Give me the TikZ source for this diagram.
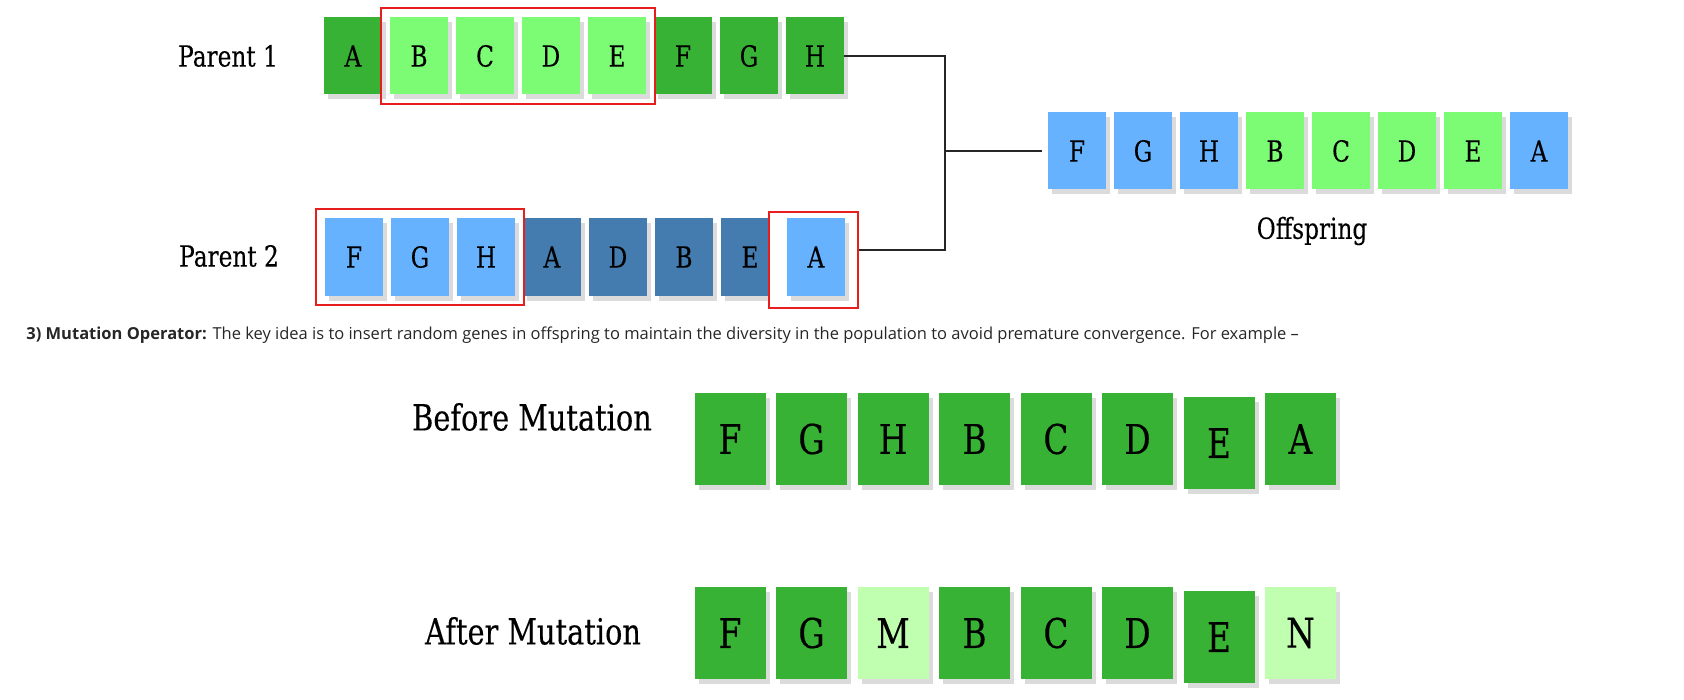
\documentclass[tikz,border=0pt]{standalone}
\usepackage{fontspec}
\usepackage[dvipsnames]{xcolor}
\usetikzlibrary{positioning,shadows,fit}

\newfontfamily\genefont[FakeStretch=0.8,FakeBold=0.25]{DejaVu Serif}
\newfontfamily\notefont{Open Sans}

\definecolor{dkgreen}{RGB}{56,178,52}
\definecolor{ltgreen}{RGB}{124,252,116}
\definecolor{pale}{RGB}{192,255,176}
\definecolor{ltblue}{RGB}{102,178,255}
\definecolor{dkblue}{RGB}{69,124,176}
\definecolor{frame}{RGB}{230,30,30}

\begin{document}
\begin{tikzpicture}[x=0.5pt,y=-0.5pt,node distance=33pt,
    gene/.style={minimum width=29pt,minimum height=38.5pt,inner sep=0pt,
        font=\genefont\fontsize{14.5}{16}\selectfont,
        drop shadow={shadow xshift=2pt,shadow yshift=-2.5pt,fill=black!28}},
    big gene/.style={gene,minimum width=35.5pt,minimum height=46pt,
        font=\genefont\fontsize{20.5}{22}\selectfont},
    row label/.style={font=\genefont\fontsize{14.5}{16}\selectfont},
    big label/.style={font=\genefont\fontsize{18}{20}\selectfont},
    redframe/.style={draw=frame,line width=1pt,inner sep=4.5pt},
    link/.style={draw=black!85,line width=0.8pt}]
    \useasboundingbox (0,0) rectangle (1684,700);

    % parent 1
    \node[row label] (lab1) at (228,56) {Parent 1};
    \node[gene,fill=dkgreen] (a1) at (353,56) {A};
    \node[gene,fill=ltgreen] (b1) [right of = a1] {B};
    \node[gene,fill=ltgreen] (c1) [right of = b1] {C};
    \node[gene,fill=ltgreen] (d1) [right of = c1] {D};
    \node[gene,fill=ltgreen] (e1) [right of = d1] {E};
    \node[gene,fill=dkgreen] (f1) [right of = e1] {F};
    \node[gene,fill=dkgreen] (g1) [right of = f1] {G};
    \node[gene,fill=dkgreen] (h1) [right of = g1] {H};
    \node[redframe,fit=(b1)(e1)] (cut1) {};

    % parent 2
    \node[row label] (lab2) at (229,256) {Parent 2};
    \node[gene,fill=ltblue] (f2) at (354,257) {F};
    \node[gene,fill=ltblue] (g2) [right of = f2] {G};
    \node[gene,fill=ltblue] (h2) [right of = g2] {H};
    \node[gene,fill=dkblue] (a2) [right of = h2] {A};
    \node[gene,fill=dkblue] (d2) [right of = a2] {D};
    \node[gene,fill=dkblue] (b2) [right of = d2] {B};
    \node[gene,fill=dkblue] (e2) [right of = b2] {E};
    \node[redframe,fill=white,minimum width=44.5pt,minimum height=48pt] (cut3) at (813.5,260) {};
    \node[gene,fill=ltblue] (x2) [right of = e2] {A};
    \node[redframe,fit=(f2)(h2)] (cut2) {};

    % offspring
    \node[gene,fill=ltblue] (f3) at (1077,151) {F};
    \node[gene,fill=ltblue] (g3) [right of = f3] {G};
    \node[gene,fill=ltblue] (h3) [right of = g3] {H};
    \node[gene,fill=ltgreen] (b3) [right of = h3] {B};
    \node[gene,fill=ltgreen] (c3) [right of = b3] {C};
    \node[gene,fill=ltgreen] (d3) [right of = c3] {D};
    \node[gene,fill=ltgreen] (e3) [right of = d3] {E};
    \node[gene,fill=ltblue] (a3) [right of = e3] {A};
    \node[row label] (lab3) at (1312,231) {Offspring};

    \coordinate (join) at (945,151);
    \path[link] (h1.east) -| (join);
    \path[link] ([yshift=5pt]cut3.east) -| (join);
    \path[link,shorten >=3pt] (join) -- (f3.west);

    \node[anchor=west,font=\notefont\fontsize{8.25}{10}\selectfont,text=black!85,inner sep=0pt] (note) at (26,335)
        {\textbf{3) Mutation Operator:} The key idea is to insert random genes in offspring to maintain the diversity in the population to avoid premature convergence. For example –};

    % mutation
    \begin{scope}[node distance=40.75pt]
    \node[big label] (lab4) at (532,417) {Before Mutation};
    \node[big gene,fill=dkgreen] (f4) at (730,439) {F};
    \node[big gene,fill=dkgreen] (g4) [right of = f4] {G};
    \node[big gene,fill=dkgreen] (h4) [right of = g4] {H};
    \node[big gene,fill=dkgreen] (b4) [right of = h4] {B};
    \node[big gene,fill=dkgreen] (c4) [right of = b4] {C};
    \node[big gene,fill=dkgreen] (d4) [right of = c4] {D};
    \node[big gene,fill=dkgreen] (e4) [right of = d4, yshift=-2pt] {E};
    \node[big gene,fill=dkgreen] (a4) [right of = e4, yshift=2pt] {A};

    \node[big label] (lab5) at (533,631) {After Mutation};
    \node[big gene,fill=dkgreen] (f5) at (730,633) {F};
    \node[big gene,fill=dkgreen] (g5) [right of = f5] {G};
    \node[big gene,fill=pale] (m5) [right of = g5] {M};
    \node[big gene,fill=dkgreen] (b5) [right of = m5] {B};
    \node[big gene,fill=dkgreen] (c5) [right of = b5] {C};
    \node[big gene,fill=dkgreen] (d5) [right of = c5] {D};
    \node[big gene,fill=dkgreen] (e5) [right of = d5, yshift=-2pt] {E};
    \node[big gene,fill=pale] (n5) [right of = e5, yshift=2pt] {N};
    \end{scope}
\end{tikzpicture}
\end{document}
